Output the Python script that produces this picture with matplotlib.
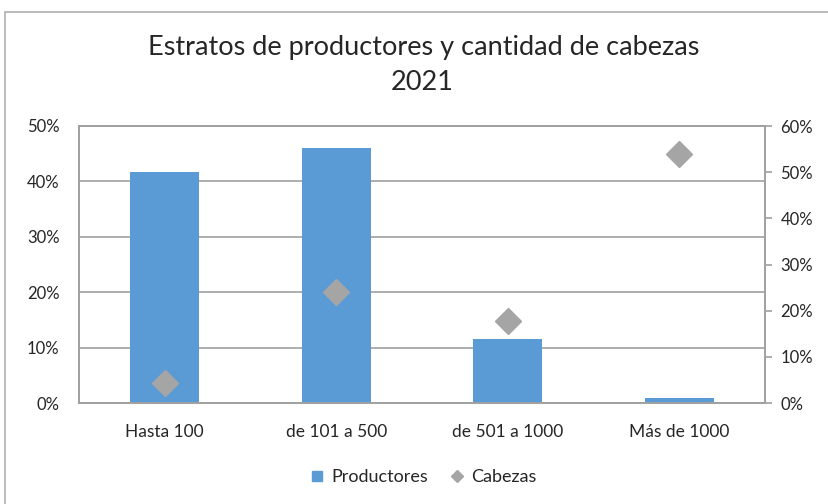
import matplotlib.pyplot as plt
from matplotlib.patches import Rectangle
from matplotlib.ticker import PercentFormatter
from matplotlib.lines import Line2D

plt.rcParams['font.family'] = ['Lato', 'DejaVu Sans']

# data
categorias = ['Hasta 100', 'de 101 a 500', 'de 501 a 1000', 'Más de 1000']
productores = [0.417, 0.460, 0.116, 0.009]
cabezas = [0.043, 0.240, 0.177, 0.539]

bar_color = '#5b9bd5'
dot_color = '#a5a5a5'
grid_color = '#a0a0a0'
text_color = '#262626'

fig = plt.figure(figsize=(8.29, 5.04), dpi=100)
# outer chart frame (runs off the right and bottom edges)
fig.patches.append(Rectangle((5 / 829, -0.1), 1.0, (504 - 12) / 504 + 0.1,
                             transform=fig.transFigure, fill=False,
                             edgecolor='#b0b0b0', linewidth=1.2))

ax = fig.add_axes([79 / 829, 101 / 504, 686 / 829, 277 / 504])
x = range(len(categorias))
ax.bar(x, productores, width=0.4, color=bar_color, zorder=2)
ax.set_xlim(-0.5, 3.5)
ax.set_ylim(0, 0.5)
ax.set_yticks([0, 0.1, 0.2, 0.3, 0.4, 0.5])
ax.yaxis.set_major_formatter(PercentFormatter(1.0, decimals=0))
ax.set_xticks(list(x))
ax.set_xticklabels(categorias)
ax.tick_params(axis='x', length=0, pad=15, labelsize=12.5, colors=text_color)
ax.tick_params(axis='y', length=0, pad=14, labelsize=12, colors=text_color)
ax.grid(axis='y', color=grid_color, linewidth=1.2, zorder=0)
for s in ax.spines.values():
    s.set_color(grid_color)
    s.set_linewidth(1.2)

ax2 = ax.twinx()
ax2.plot(x, cabezas, linestyle='none', marker='D', markersize=13,
         color=dot_color, zorder=3)
ax2.set_ylim(0, 0.6)
ax2.set_yticks([0, 0.1, 0.2, 0.3, 0.4, 0.5, 0.6])
ax2.yaxis.set_major_formatter(PercentFormatter(1.0, decimals=0))
ax2.tick_params(axis='y', length=5, width=1.2, color=grid_color, pad=6,
                labelsize=12, labelcolor=text_color)
for s in ax2.spines.values():
    s.set_color(grid_color)
    s.set_linewidth(1.2)

fig.text(424 / 829, 1 - 47 / 504, 'Estratos de productores y cantidad de cabezas',
         ha='center', va='center', fontsize=19.5, color=text_color)
fig.text(422 / 829, 1 - 83 / 504, '2021', ha='center', va='center',
         fontsize=19.5, color=text_color)

handles = [Line2D([], [], linestyle='none', marker='s', markersize=7, color=bar_color),
           Line2D([], [], linestyle='none', marker='D', markersize=6, color=dot_color)]
fig.legend(handles, ['Productores', 'Cabezas'], loc='center',
           bbox_to_anchor=(423 / 829, 1 - 477 / 504), ncol=2, frameon=False,
           fontsize=13, handlelength=0.8, handletextpad=0.4, columnspacing=1.2,
           labelcolor=text_color)

fig.savefig('out.png', dpi=100)
